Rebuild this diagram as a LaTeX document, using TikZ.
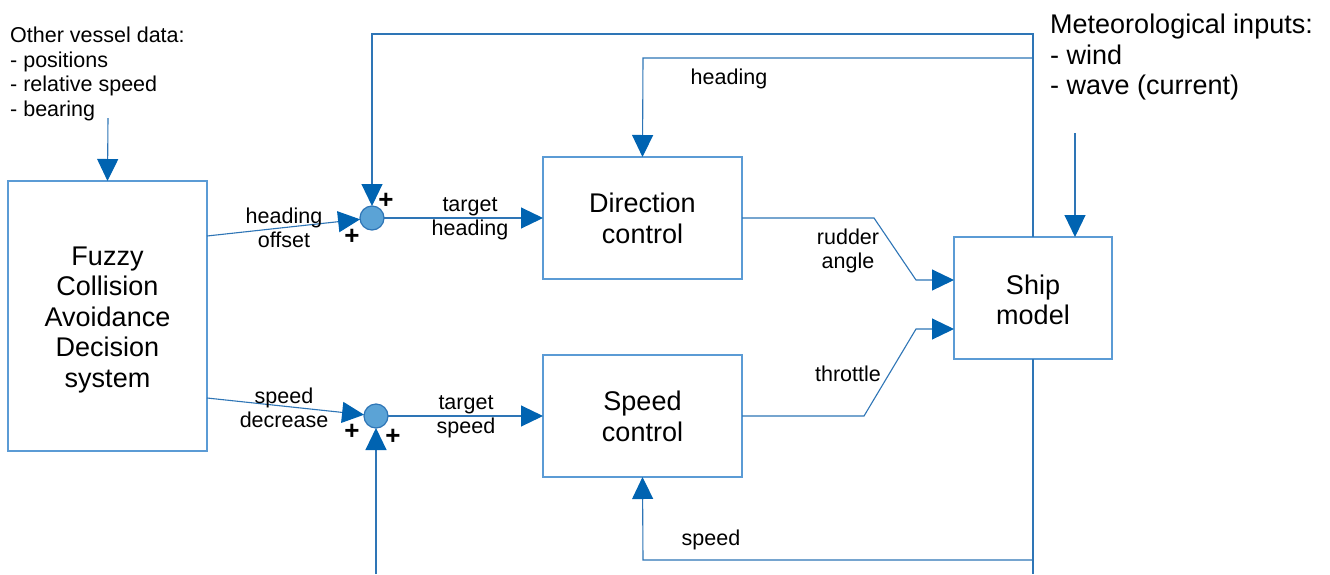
\documentclass[tikz,border=0pt]{standalone}
\usepackage{fontspec}
\setmainfont{Liberation Sans}
\usetikzlibrary{arrows.meta,calc}
\definecolor{lc}{HTML}{2E75B6}
\definecolor{bc}{HTML}{5B9BD5}
\definecolor{ac}{HTML}{0063B1}
\definecolor{cf}{HTML}{5BA3D6}
\newcommand\lowertext[2]{\raisebox{-#1}[\height][\depth]{\begin{tabular}{@{}c@{}}#2\end{tabular}}}
\tikzset{
  conn/.style={draw=lc, line width=1.1pt},
  arr/.style={conn, -{Triangle[length=22pt,width=21pt,color=ac,fill=ac]}},
  blk/.style={draw=bc, line width=1.4pt, fill=white, inner sep=0pt, outer sep=0pt, align=center,
    font=\fontsize{27}{30.5}\selectfont},
  sumc/.style={circle, draw=lc, line width=1.2pt, fill=cf, minimum size=24pt, inner sep=0pt, outer sep=0pt},
  lbl/.style={align=center, inner sep=0pt, font=\fontsize{21.5}{24}\selectfont},
  plus/.style={inner sep=0pt, font=\fontsize{26}{26}\selectfont\bfseries},
}
\begin{document}
\begin{tikzpicture}[x=1pt,y=-1pt]
\useasboundingbox[fill=white] (0,0) rectangle (1330,574);
% blocks
\node[blk, minimum width=199pt, minimum height=270pt] (fuzzy) at (107.5,316) {\lowertext{4pt}{Fuzzy\\Collision\\Avoidance\\Decision\\system}};
\node[blk, minimum width=199pt, minimum height=122pt] (dir) at (642.5,218) {\lowertext{4pt}{Direction\\control}};
\node[blk, minimum width=199pt, minimum height=122pt] (spd) at (642.5,416) {\lowertext{4pt}{Speed\\control}};
\node[blk, minimum width=158pt, minimum height=122pt] (ship) at (1033,298) {\lowertext{5.5pt}{Ship\\model}};
\node[sumc] (s1) at (372,218) {};
\node[sumc] (s2) at (376,416) {};
% texts
\node[anchor=north west, align=left, inner sep=0pt, font=\fontsize{21.5}{24.6}\selectfont] (ov) at (10,27) {Other vessel data:\\- positions\\- relative speed\\- bearing};
\node[anchor=north west, align=left, inner sep=0pt, font=\fontsize{27}{30.5}\selectfont] (met) at (1050,14) {Meteorological inputs:\\- wind\\- wave (current)};
% coordinates
\coordinate (ovs) at (108,118);
\coordinate (ms) at (1075,133);
\coordinate (ho) at (207,236);
\coordinate (sd) at (207,398);
\coordinate (o1) at (1033,34);
\coordinate (o2) at (372,34);
\coordinate (h1) at (1033,58);
\coordinate (h2) at (643,58);
\coordinate (b1) at (1033,574);
\coordinate (p1) at (1033,560);
\coordinate (p2) at (643,560);
\coordinate (q1) at (376,574);
\coordinate (r1) at (874,218);
\coordinate (r2) at (916,280);
\coordinate (t1) at (864,416);
\coordinate (t2) at (916,329);
% connectors
\draw[arr] (ovs) -- (fuzzy.north);
\draw[arr] (ms) -- (ms |- ship.north);
\draw[arr] (ho) -- (s1);
\draw[arr] (sd) -- (s2);
\draw[arr] (s1.east) -- (dir.west);
\draw[arr] (s2.east) -- (spd.west);
\draw[arr] (ship.north) -- (o1) -- (o2) -- (s1.north);
\draw[arr] (h1) -- (h2) -- (dir.north);
\draw[conn] (ship.south) -- (b1);
\draw[arr] (p1) -- (p2) -- (spd.south);
\draw[arr] (q1) -- (s2.south);
\draw[arr] (dir.east) -- (r1) -- (r2) -- (ship.west |- r2);
\draw[arr] (spd.east) -- (t1) -- (t2) -- (ship.west |- t2);
% labels
\node[lbl] (l1) at (284,228) {heading\\offset};
\node[lbl] (l2) at (470,219) {target\\heading};
\node[lbl] (l3) at (284,408) {speed\\decrease};
\node[lbl] (l4) at (466,417) {target\\speed};
\node[lbl] (l5) at (848,251) {rudder\\angle};
\node[lbl] (l6) at (848,374) {throttle};
\node[lbl] (l7) at (729,79) {heading};
\node[lbl] (l8) at (711,540) {speed};
\node[plus] (pa) at (386,201) {+};
\node[plus] (pb) at (352,237) {+};
\node[plus] (pc) at (352,432) {+};
\node[plus] (pd) at (393,437) {+};
\end{tikzpicture}
\end{document}
